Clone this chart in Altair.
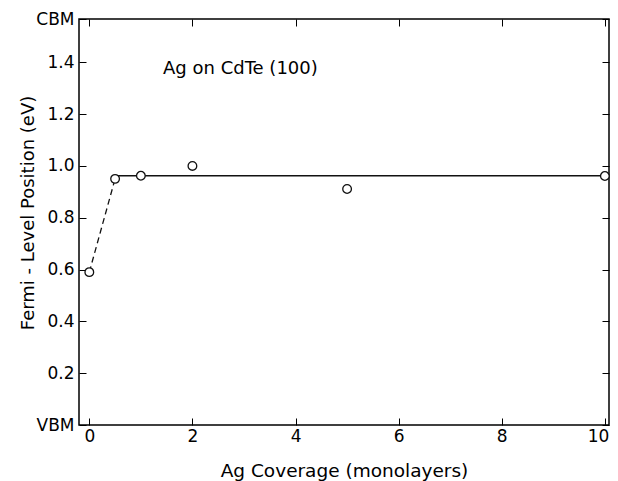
import altair as alt
import pandas as pd

# data
coverage = [0, 0.5, 1, 2, 5, 10]
fermi = [0.590, 0.950, 0.962, 1.000, 0.911, 0.961]
dash_x = [0, 0.5]
dash_y = [0.590, 0.950]
flat_x = [0.5, 10.08]
flat_y = [0.962, 0.962]
x_ticks = [0, 2, 4, 6, 8, 10]
y_ticks = [0, 0.2, 0.4, 0.6, 0.8, 1.0, 1.2, 1.4, 1.567]
x_domain = [-0.2, 10.08]
y_domain = [0, 1.567]
note_x = [1.43]
note_y = [1.355]
note_text = ["Ag on CdTe (100)"]

FONT = "DejaVu Sans"

pts = pd.DataFrame({"x": coverage, "y": fermi})
dash = pd.DataFrame({"x": dash_x, "y": dash_y})
flat = pd.DataFrame({"x": flat_x, "y": flat_y})
note = pd.DataFrame({"x": note_x, "y": note_y, "t": note_text})

xs = alt.Scale(domain=x_domain, nice=False, zero=False)
ys = alt.Scale(domain=y_domain, nice=False, zero=False)

ylabel = "datum.value == 0 ? 'VBM' : (datum.value > 1.5 ? 'CBM' : format(datum.value, '.1f'))"

x_bottom = alt.Axis(values=x_ticks, orient="bottom", offset=-7, tickSize=7, domain=False,
                    grid=False, labelPadding=3, labelFontSize=17, labelFont=FONT,
                    labelColor="black", tickColor="black",
                    labelFlush=5, labelFlushOffset=4,
                    title="Ag Coverage (monolayers)", titleFont=FONT, titleFontSize=18.5,
                    titleFontWeight="normal", titleColor="black",
                    titleBaseline="alphabetic", titleY=58)
y_left = alt.Axis(values=y_ticks, orient="left", offset=-7, tickSize=7, domain=False,
                  grid=False, labelPadding=5, labelFontSize=17, labelFont=FONT,
                  labelColor="black", tickColor="black", labelFlush=False,
                  labelExpr=ylabel,
                  title="Fermi - Level Position (eV)", titleFont=FONT, titleFontSize=18,
                  titleFontWeight="normal", titleColor="black",
                  titleBaseline="alphabetic", titleX=-53, titleY=193.5)
x_top = alt.Axis(values=x_ticks, orient="top", offset=-7, tickSize=7, domain=False,
                 grid=False, labels=False, title=None, tickColor="black")
y_right = alt.Axis(values=y_ticks, orient="right", offset=-7, tickSize=7, domain=False,
                   grid=False, labels=False, title=None, tickColor="black")

dashed = alt.Chart(dash).mark_line(color="#111", strokeWidth=1.3, strokeDash=[6, 4]).encode(
    x=alt.X("x:Q", scale=xs, axis=x_top),
    y=alt.Y("y:Q", scale=ys, axis=y_right),
)
solid = alt.Chart(flat).mark_line(color="#111", strokeWidth=1.3).encode(
    x=alt.X("x:Q", scale=xs, axis=None),
    y=alt.Y("y:Q", scale=ys, axis=None),
)
points = alt.Chart(pts).mark_point(shape="circle", size=75, filled=True, fill="white",
                                   stroke="#111", strokeWidth=1.3, opacity=1).encode(
    x=alt.X("x:Q", scale=xs, axis=x_bottom),
    y=alt.Y("y:Q", scale=ys, axis=y_left),
)
text = alt.Chart(note).mark_text(align="left", baseline="alphabetic", font=FONT, fontSize=18,
                                 color="black").encode(
    x=alt.X("x:Q", scale=xs, axis=None),
    y=alt.Y("y:Q", scale=ys, axis=None),
    text="t:N",
)

chart = alt.layer(dashed, solid, points, text).resolve_axis(
    x="independent", y="independent"
).properties(
    width=530, height=406,
    autosize=alt.AutoSizeParams(type="none"),
    padding={"left": 71, "top": 11, "right": 1, "bottom": 56},
    background="white",
).configure_view(stroke="black", strokeWidth=1.5)

chart.save("out.html", embed_options={"renderer": "svg", "actions": False})
